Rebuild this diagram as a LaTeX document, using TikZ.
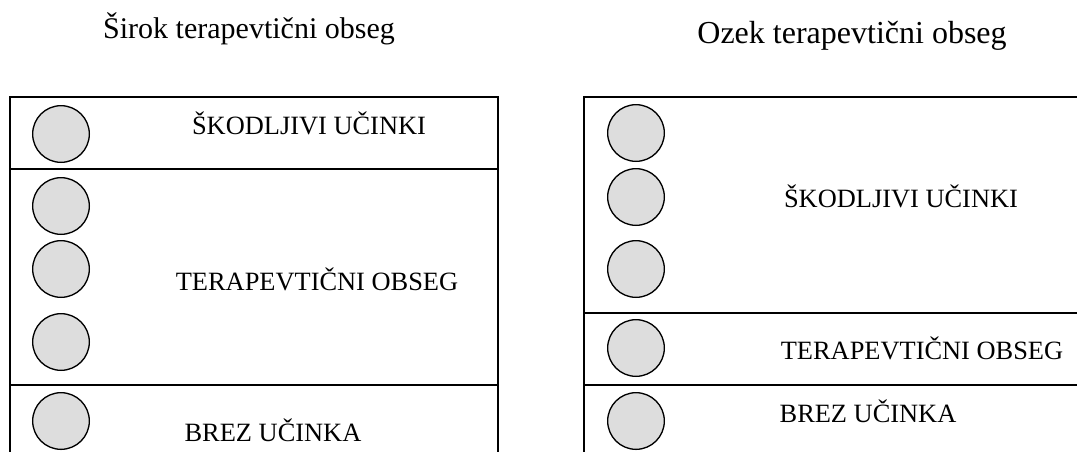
\documentclass[tikz,border=0pt]{standalone}
\usepackage{fontspec}
\setmainfont{Liberation Serif}
\usetikzlibrary{positioning}
\definecolor{ballgray}{RGB}{221,221,221}

\begin{document}
\begin{tikzpicture}
[x=0.75pt, y=-0.75pt, line width=1pt,
frame/.style={line width=2pt},
band/.style={line width=1.2pt},
ball/.style={circle, draw, fill=ballgray, inner sep=0pt, minimum size=42.5pt},
lbl/.style={font=\fontsize{19.8}{22}\selectfont, inner sep=0pt},
head/.style={font=\fontsize{22.5}{26}\selectfont, inner sep=0pt, anchor=base}]

\useasboundingbox (0,0) rectangle (1077,451);
\clip (0,0) rectangle (1077,451);

\node[head] (wide) at (249,38) {Širok terapevtični obseg};
\node[head, font=\fontsize{24}{28}\selectfont] (narrow) at (852,43) {Ozek terapevtični obseg};

% left box
\draw[frame] (10,460) -- (10,97) -- (498,97) -- (498,460);
\draw[band] (10,169) -- (498,169);
\draw[band] (10,385) -- (498,385);

% right box
\draw[frame] (584,460) -- (584,97) -- (1090,97);
\draw[band] (584,313) -- (1090,313);
\draw[band] (584,385) -- (1090,385);

\foreach \y [count=\i] in {134,206,269,342,421} {
  \node[ball] (lb\i) at (61,\y) {};
}
\foreach \y [count=\i] in {133,197,269,348,421} {
  \node[ball] (rb\i) at (636,\y) {};
}

\node[lbl] (lharm) at (309,123) {ŠKODLJIVI UČINKI};
\node[lbl] (lther) at (317,279) {TERAPEVTIČNI OBSEG};
\node[lbl] (lnone) at (273,430) {BREZ UČINKA};

\node[lbl] (rharm) at (901,196) {ŠKODLJIVI UČINKI};
\node[lbl] (rther) at (922,348) {TERAPEVTIČNI OBSEG};
\node[lbl] (rnone) at (868,411) {BREZ UČINKA};
\end{tikzpicture}
\end{document}
